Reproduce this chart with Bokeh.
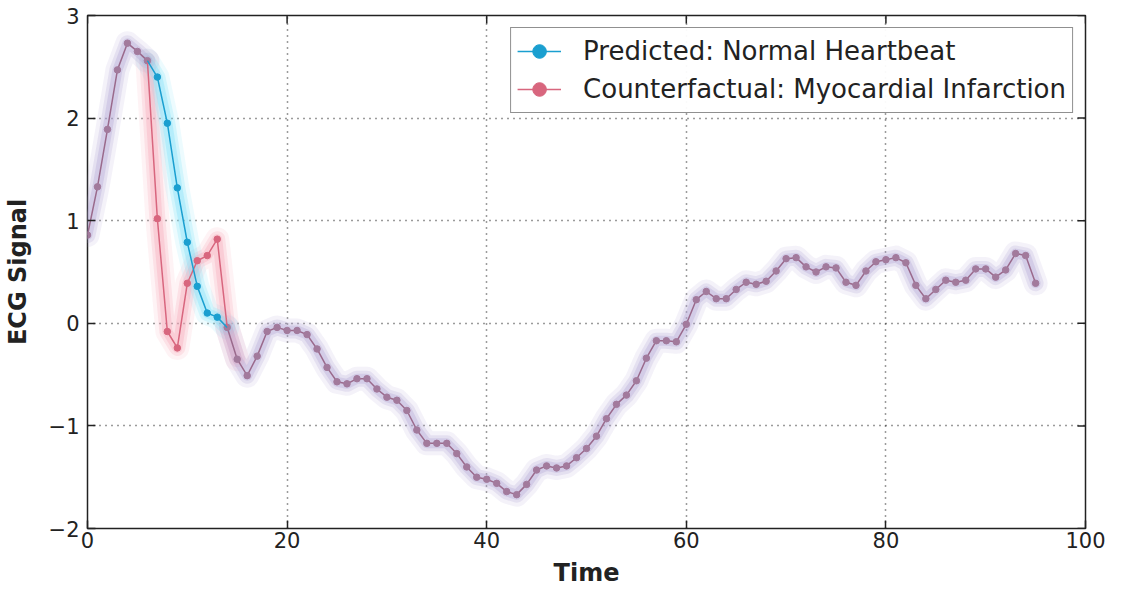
import math
from bokeh.plotting import figure
from bokeh.models import Range1d, FixedTicker, Legend, LegendItem
from bokeh.embed import file_html
from bokeh.resources import INLINE

# shared ECG signal (time 0..95)
time = list(range(96))
signal = [0.86, 1.33, 1.89, 2.47, 2.73, 2.65, 2.56,
          2.40, 1.95, 1.32, 0.79, 0.36, 0.10, 0.06,
          -0.04, -0.35, -0.51, -0.32, -0.08, -0.04, -0.07, -0.07, -0.11, -0.25,
          -0.43, -0.57, -0.59, -0.54, -0.54, -0.64, -0.72, -0.75, -0.85, -1.04,
          -1.17, -1.17, -1.17, -1.27, -1.40, -1.50, -1.52, -1.56, -1.64, -1.67,
          -1.57, -1.43, -1.39, -1.41, -1.39, -1.31, -1.22, -1.10, -0.93, -0.79,
          -0.70, -0.56, -0.34, -0.17, -0.17, -0.18, -0.01, 0.23, 0.31, 0.24,
          0.24, 0.33, 0.40, 0.38, 0.41, 0.51, 0.63, 0.64, 0.55, 0.50, 0.55,
          0.54, 0.40, 0.37, 0.51, 0.60, 0.62, 0.64, 0.59, 0.37, 0.24, 0.33,
          0.42, 0.40, 0.42, 0.53, 0.53, 0.45, 0.52, 0.68, 0.66, 0.39]

# segments that differ (time 6..14)
seg_time = [6, 7, 8, 9, 10, 11, 12, 13, 14]
predicted = [2.56, 2.40, 1.95, 1.32, 0.79, 0.36, 0.10, 0.06, -0.04]
counterfactual = [2.56, 1.02, -0.08, -0.24, 0.39, 0.61, 0.66, 0.82, -0.04]

x_ticks = [0, 20, 40, 60, 80, 100]
y_ticks = [-2, -1, 0, 1, 2, 3]
X_MIN, X_MAX, Y_MIN, Y_MAX = 0, 100, -2, 3

base_t = time[:7] + time[14:]
base_y = signal[:7] + signal[14:]

p = figure(width=1110, output_backend="svg", toolbar_location=None,
           x_range=Range1d(X_MIN, X_MAX), y_range=Range1d(Y_MIN, Y_MAX),
           frame_width=998, frame_height=513,
           min_border_left=80, min_border_top=15, min_border_right=24,
           min_border_bottom=10,
           background_fill_color="white", border_fill_color="white")
p.outline_line_color = "#222222"
p.outline_line_width = 1.5

FONT = "DejaVu Sans"
for ax, tk in ((p.xaxis[0], x_ticks), (p.yaxis[0], y_ticks)):
    ax.ticker = FixedTicker(ticks=tk)
    ax.major_tick_in = 8
    ax.major_tick_out = 0
    ax.minor_tick_in = 0
    ax.minor_tick_out = 0
    ax.major_tick_line_color = "#222222"
    ax.major_tick_line_width = 1.5
    ax.axis_line_color = None
    ax.major_label_text_font = FONT
    ax.major_label_text_font_size = "21px"
    ax.major_label_text_color = "#222222"
    ax.axis_label_text_font = FONT
    ax.axis_label_text_font_size = "24px"
    ax.axis_label_text_font_style = "bold"
    ax.axis_label_text_color = "#222222"
p.xaxis.axis_label = "Time"
p.yaxis.axis_label = "ECG Signal"
p.xaxis.major_label_standoff = 3
p.yaxis.major_label_standoff = 8
p.xaxis.axis_label_standoff = 8
p.yaxis.axis_label_standoff = 14

p.xgrid.ticker = FixedTicker(ticks=x_ticks)
p.ygrid.ticker = FixedTicker(ticks=y_ticks)
for g in (p.xgrid[0], p.ygrid[0]):
    g.grid_line_color = "#222222"
    g.grid_line_dash = "1 5"
    g.grid_line_width = 1.5
    g.grid_line_alpha = 0.9

# mirrored inward tick marks on the top and right edges (clipped to frame)
p.scatter(x_ticks, [Y_MAX] * len(x_ticks), marker="dash", size=16, angle=math.pi / 2,
          line_color="#222222", line_width=1.5)
p.scatter([X_MAX] * len(y_ticks), y_ticks, marker="dash", size=16,
          line_color="#222222", line_width=1.5)

# glow halos
for w, a in ((24, 0.14), (16, 0.24), (10, 0.34)):
    p.line(seg_time + [15], counterfactual + [-0.35], line_width=w,
           line_color="#f7a8b8", line_alpha=a, line_join="round", line_cap="round")
    p.line(seg_time, predicted, line_width=w, line_color="#7fe0f8", line_alpha=a,
           line_join="round", line_cap="round")
    p.line(base_t[:7], base_y[:7], line_width=w, line_color="#b4a6d6", line_alpha=a,
           line_join="round", line_cap="round")
    p.line(base_t[7:], base_y[7:], line_width=w, line_color="#b4a6d6", line_alpha=a,
           line_join="round", line_cap="round")

# base signal
p.line(base_t[:7], base_y[:7], line_width=1.5, line_color="#9a6a8c")
p.line(base_t[7:], base_y[7:], line_width=1.5, line_color="#9a6a8c")
p.scatter(base_t, base_y, size=6.5, fill_color="#a27a9c", line_color="#a27a9c")

# counterfactual
r_cl = p.line(seg_time, counterfactual, line_width=1.5, line_color="#d8667e")
r_cs = p.scatter(seg_time[1:-1], counterfactual[1:-1], size=6.5,
                 fill_color="#d8667e", line_color="#d8667e")
# predicted
r_pl = p.line(seg_time, predicted, line_width=1.5, line_color="#1a9fd0")
r_ps = p.scatter(seg_time[1:-1], predicted[1:-1], size=6.5,
                 fill_color="#1a9fd0", line_color="#1a9fd0")

legend = Legend(items=[
    LegendItem(label="Predicted: Normal Heartbeat", renderers=[r_pl, r_ps]),
    LegendItem(label="Counterfactual: Myocardial Infarction", renderers=[r_cl, r_cs]),
], location="top_right")
legend.label_text_font = FONT
legend.label_text_font_size = "26px"
legend.label_text_color = "#222222"
legend.border_line_color = "#222222"
legend.border_line_width = 1.2
legend.glyph_width = 44
legend.glyph_height = 34
legend.label_height = 34
legend.spacing = 4
legend.padding = 6
legend.margin = 12
legend.label_standoff = 22
p.add_layout(legend)

open("out.html", "w").write(file_html(p, INLINE))
